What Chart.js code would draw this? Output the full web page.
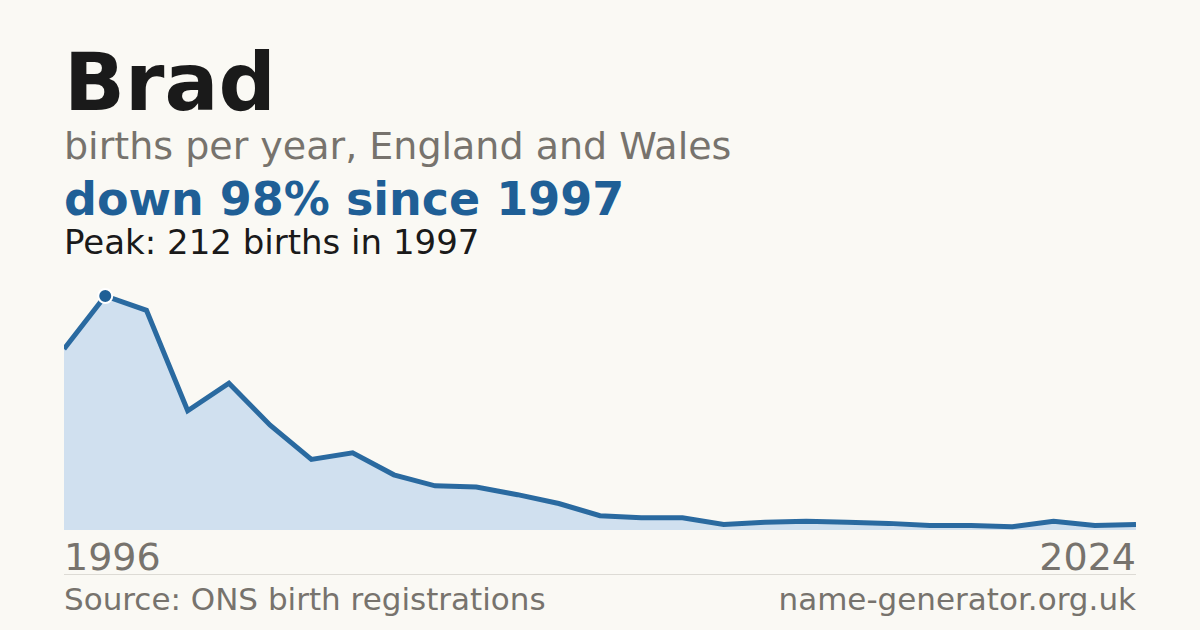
<!DOCTYPE html>
<html><head><meta charset="utf-8">
<script src="https://cdn.jsdelivr.net/npm/chart.js@4/dist/chart.umd.min.js"></script>
<style>
body{margin:0;width:1200px;height:630px;background:#faf9f4;font-family:"DejaVu Sans",sans-serif;position:relative;overflow:hidden}
.t{position:absolute;left:64px;white-space:nowrap}
</style></head><body>
<div class="t" style="top:36px;font-size:80px;font-weight:bold;color:#1a1a1a">Brad</div>
<div class="t" style="top:124px;font-size:38px;color:#77736d">births per year, England and Wales</div>
<div class="t" style="top:172px;font-size:46px;font-weight:bold;color:#1f5f96">down 98% since 1997</div>
<div class="t" style="top:222px;font-size:34px;color:#1a1a1a">Peak: 212 births in 1997</div>
<div style="position:absolute;left:64px;top:280px;width:1072px;height:250px"><canvas id="c"></canvas></div>
<div class="t" style="top:535px;font-size:38px;color:#77736d">1996</div>
<div class="t" style="top:535px;left:auto;right:64px;font-size:38px;color:#77736d">2024</div>
<div style="position:absolute;left:64px;width:1072px;top:574px;border-top:1px solid #dddbd5"></div>
<div class="t" style="top:581px;font-size:31px;color:#77736d">Source: ONS birth registrations</div>
<div class="t" style="top:581px;left:auto;right:64px;font-size:31px;color:#77736d">name-generator.org.uk</div>
<script>
const years=["1996","1997","1998","1999","2000","2001","2002","2003","2004","2005","2006","2007","2008","2009","2010","2011","2012","2013","2014","2015","2016","2017","2018","2019","2022","2023","2024"];
const births=[164,212,199,108,133,95,64,70,50,40,39,32,24,13,11,11,5,7,8,7,6,4,4,3,8,4,5];
const peakIndex=1;
new Chart(document.getElementById('c'),{type:'line',
data:{labels:years,datasets:[{data:births,borderColor:'#2a6aa0',borderWidth:5,backgroundColor:'#d0e0ef',fill:true,tension:0,clip:false,
pointRadius:births.map((v,i)=>i===peakIndex?7:0),pointBackgroundColor:'#1f5f96',pointBorderColor:'#ffffff',pointBorderWidth:2}]},
options:{responsive:true,maintainAspectRatio:false,animation:false,layout:{padding:0},
plugins:{legend:{display:false},tooltip:{enabled:false}},
scales:{x:{display:false,offset:false},y:{display:false,min:0,max:226.5}}}});
</script>
</body></html>
